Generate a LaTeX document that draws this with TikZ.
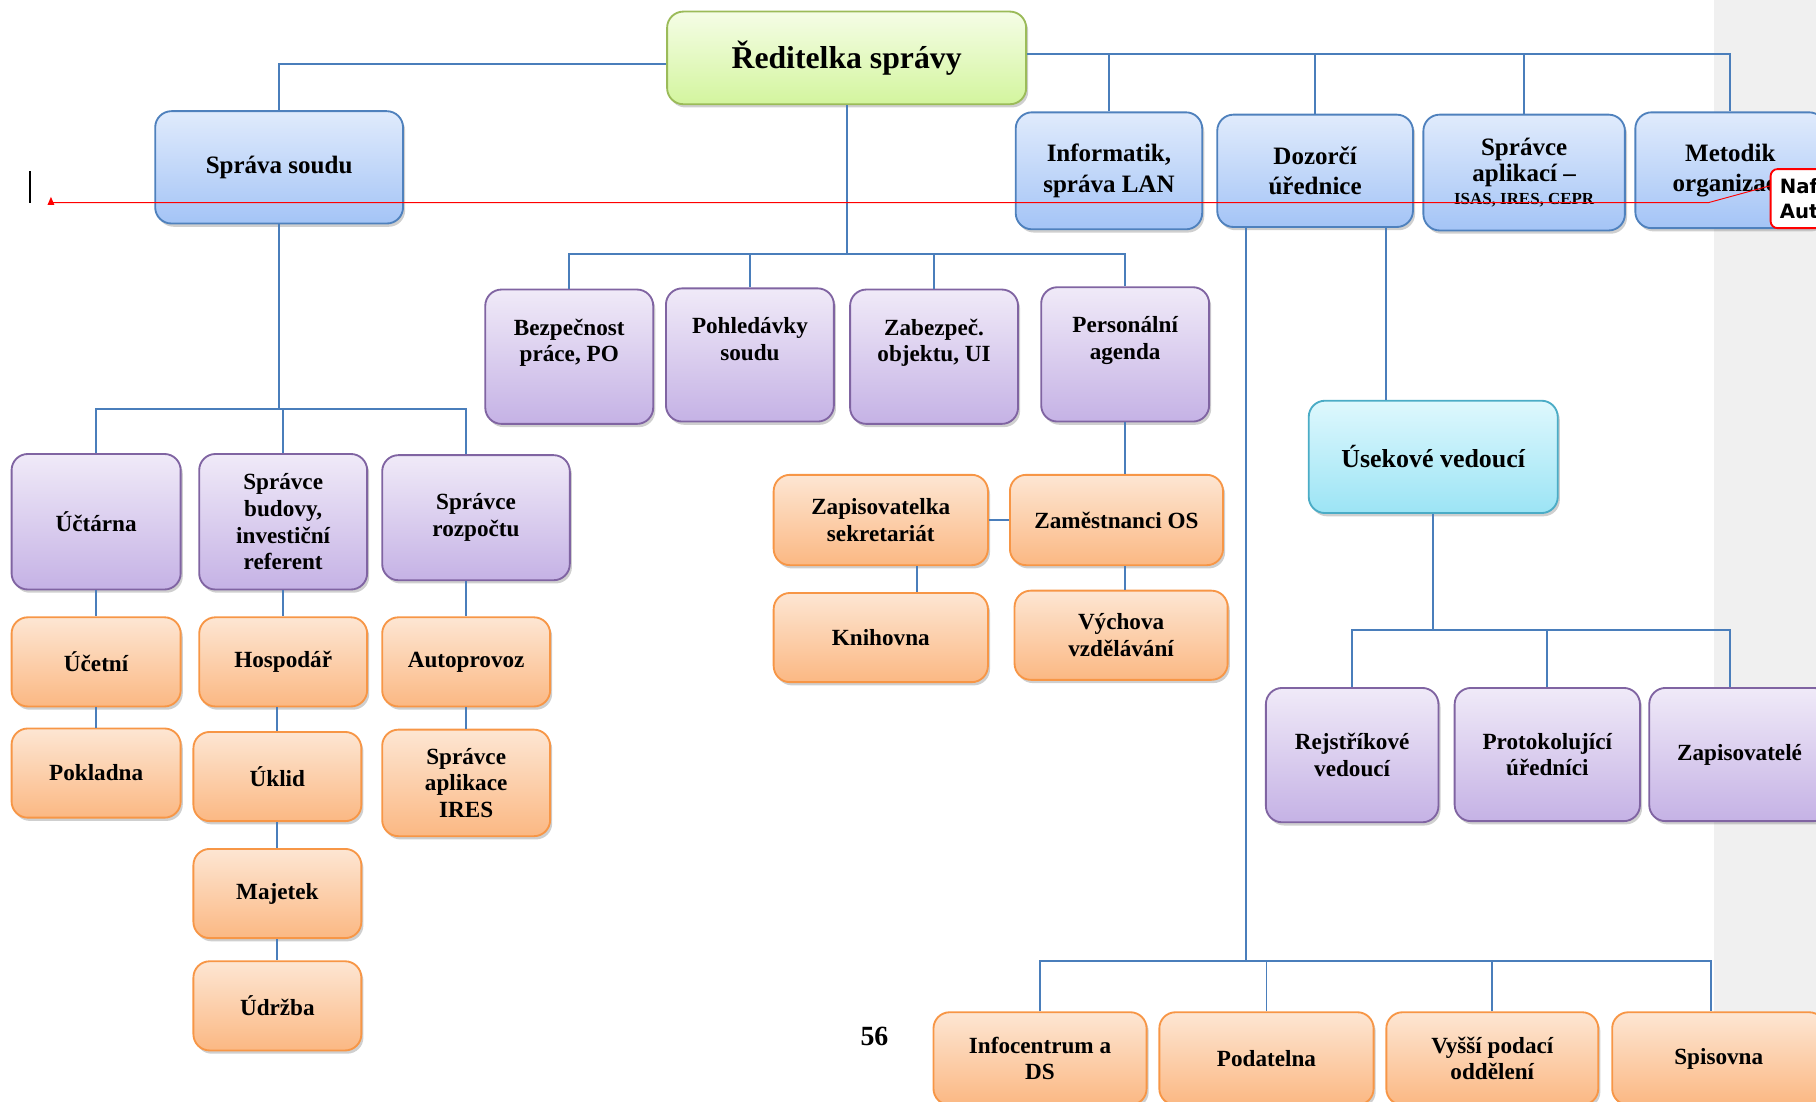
\documentclass[tikz,border=0pt]{standalone}
\usepackage{fontspec}
\setmainfont{Liberation Serif}
\newfontfamily\notesans{DejaVu Sans}
\usetikzlibrary{shadows,calc}
\definecolor{ortop}{HTML}{FDE6D3}
\definecolor{orbot}{HTML}{FBB883}
\definecolor{orline}{HTML}{F79646}
\definecolor{putop}{HTML}{F0EAF8}
\definecolor{pubot}{HTML}{C5B2E5}
\definecolor{puline}{HTML}{8064A2}
\definecolor{bltop}{HTML}{E0EBFC}
\definecolor{blbot}{HTML}{A4C4F6}
\definecolor{blline}{HTML}{4F81BD}
\definecolor{grtop}{HTML}{F5FDE6}
\definecolor{grbot}{HTML}{D3F59E}
\definecolor{grline}{HTML}{9BBB59}
\definecolor{cytop}{HTML}{DEF8FD}
\definecolor{cybot}{HTML}{9CE4F5}
\definecolor{cyline}{HTML}{4BACC6}
\definecolor{conncol}{HTML}{4A7EBB}
\definecolor{graybg}{HTML}{F0F0F0}
\tikzset{
  sz/.style 2 args={minimum width=#1*0.5pt, minimum height=#2*0.5pt},
  box/.style={rounded corners=7pt, align=center, inner sep=2pt, line width=0.8pt,
    font=\bfseries\fontsize{10}{11.5}\selectfont,
    drop shadow={shadow xshift=0.9pt, shadow yshift=-1.4pt, opacity=0.38}},
  orbox/.style={box, draw=orline, top color=ortop, bottom color=orbot},
  pubox/.style={box, draw=puline, top color=putop, bottom color=pubot},
  blbox/.style={box, draw=blline, top color=bltop, bottom color=blbot,
    font=\bfseries\fontsize{10.8}{13}\selectfont},
  grbox/.style={box, draw=grline, top color=grtop, bottom color=grbot,
    font=\bfseries\fontsize{13.7}{16}\selectfont},
  cybox/.style={box, draw=cyline, top color=cytop, bottom color=cybot,
    font=\bfseries\fontsize{11.2}{13}\selectfont},
  raised/.style={text depth=14pt},
  conn/.style={draw=conncol, line width=0.8pt},
}
\begin{document}
\begin{tikzpicture}[x=0.5pt,y=-0.5pt]
\useasboundingbox (0,0) rectangle (1568,951);
\begin{scope}
\clip (0,0) rectangle (1568,951);
\fill[graybg] (1480,0) rectangle (1568,951);

% top level
\node[grbox, sz={310}{80}] (dir) at (731,50) {Ředitelka správy};
\node[blbox, sz={214}{97}] (ss) at (241,144.5) {Správa soudu};
\node[blbox, sz={161}{101}] (inf) at (957.5,147.5) {Informatik,\\správa LAN};
\node[blbox, sz={169}{97}] (doz) at (1135.5,147.5) {Dozorčí\\úřednice};
\node[blbox, sz={174}{100}] (apl) at (1316,149) {Správce\\[-1.5pt]aplikací –\\[-3pt]{\fontsize{7.3}{9}\selectfont ISAS, IRES, CEPR}};
\node[blbox, sz={164}{100}] (met) at (1494,147) {Metodik\\organizace};

% middle purple row
\node[pubox, raised, sz={145}{116}] (bez) at (491.5,308) {Bezpečnost\\práce, PO};
\node[pubox, raised, sz={145}{115}] (poh) at (647.5,306.5) {Pohledávky\\soudu};
\node[pubox, raised, sz={145}{116}] (zab) at (806.5,308) {Zabezpeč.\\objektu, UI};
\node[pubox, raised, sz={145}{116}] (per) at (971.5,306) {Personální\\agenda};

% left purple row
\node[pubox, sz={146}{117}] (uct) at (83,450.5) {Účtárna};
\node[pubox, sz={145}{117}] (sb) at (244.5,450.5) {Správce\\budovy,\\investiční\\referent};
\node[pubox, sz={162}{108}] (roz) at (411,447) {Správce\\rozpočtu};

% left orange
\node[orbox, sz={146}{77}] (ucet) at (83,571.5) {Účetní};
\node[orbox, sz={146}{77}] (pok) at (83,667.5) {Pokladna};
\node[orbox, sz={145}{77}] (hos) at (244.5,571.5) {Hospodář};
\node[orbox, sz={145}{77}] (ukl) at (239.5,670.5) {Úklid};
\node[orbox, sz={145}{77}] (maj) at (239.5,771.5) {Majetek};
\node[orbox, sz={145}{77}] (udr) at (239.5,868.5) {Údržba};
\node[orbox, sz={145}{77}] (auto) at (402.5,571.5) {Autoprovoz};
\node[orbox, sz={145}{92}] (ires) at (402.5,676) {Správce\\aplikace\\IRES};

% middle orange
\node[orbox, sz={185}{78}] (zap) at (760.5,449) {Zapisovatelka\\sekretariát};
\node[orbox, sz={184}{78}] (zam) at (964,449) {Zaměstnanci OS};
\node[orbox, sz={185}{77}] (kni) at (760.5,550.5) {Knihovna};
\node[orbox, sz={184}{77}] (vych) at (968,548.5) {Výchova\\vzdělávání};

% right part
\node[cybox, sz={215}{97}] (use) at (1237.5,394.5) {Úsekové vedoucí};
\node[pubox, sz={149}{116}] (rej) at (1167.5,652) {Rejstříkové\\vedoucí};
\node[pubox, sz={160}{115}] (pro) at (1336,651.5) {Protokolující\\úředníci};
\node[pubox, sz={156}{115}] (zps) at (1502,651.5) {Zapisovatelé};

% bottom row
\node[orbox, sz={184}{80}] (ic) at (898,914) {Infocentrum a\\DS};
\node[orbox, sz={185}{80}] (pod) at (1093.5,914) {Podatelna};
\node[orbox, sz={183}{80}] (vys) at (1288.5,914) {Vyšší podací\\oddělení};
\node[orbox, sz={184}{80}] (spis) at (1484,914) {Spisovna};

\node[font=\bfseries\fontsize{12}{14}\selectfont] (pg) at (755,895) {56};

% connectors: top
\coordinate (rt) at ($(dir.east)+(0,-3)$);
\draw[conn] (rt) -| (met.north);
\draw[conn] (inf.north) -- (inf.north |- rt);
\draw[conn] (doz.north) -- (doz.north |- rt);
\draw[conn] (apl.north) -- (apl.north |- rt);
\draw[conn] (dir.west) ++(0,5) -| (ss.north);

% connectors: middle
\coordinate (mb) at (735,219);
\draw[conn] (dir.south) -- (dir.south |- mb);
\draw[conn] (bez.north) |- (per.north |- mb) -- (per.north);
\draw[conn] (poh.north) -- (poh.north |- mb);
\draw[conn] (zab.north) -- (zab.north |- mb);
\draw[conn] (per.south) -- (per.south |- zam.north);
\draw[conn] (zap.east) -- (zam.west);
\draw[conn] ([xshift=15.5pt]zap.south) -- ([xshift=15.5pt]zap.south |- kni.north);
\draw[conn] (per.south |- zam.south) -- (per.south |- vych.north);

% connectors: left
\coordinate (lb) at (240,353);
\draw[conn] (ss.south) -- (ss.south |- lb);
\draw[conn] (uct.north) |- (auto.north |- lb) -- (auto.north |- roz.north);
\draw[conn] (sb.north) -- (sb.north |- lb);
\draw[conn] (uct.south) -- (ucet.north);
\draw[conn] (ucet.south) -- (pok.north);
\draw[conn] (sb.south) -- (hos.north);
\draw[conn] (ukl.north |- hos.south) -- (ukl.north);
\draw[conn] (ukl.south) -- (maj.north);
\draw[conn] (maj.south) -- (udr.north);
\draw[conn] (auto.north |- roz.south) -- (auto.north);
\draw[conn] (auto.south) -- (ires.north);

% connectors: right
\coordinate (dl) at ($(doz.south)+(-60,0)$);
\coordinate (dr) at ($(doz.south)+(61,0)$);
\coordinate (bb) at (0,830);
\coordinate (ub) at (0,544);
\draw[conn] (dl) -- (dl |- bb);
\draw[conn] (ic.north) |- ([xshift=-3.5pt]spis.north |- bb) -- ([xshift=-3.5pt]spis.north);
\draw[conn] (pod.north) -- (pod.north |- bb);
\draw[conn] (vys.north) -- (vys.north |- bb);
\draw[conn] (dr) -- (dr |- use.north);
\draw[conn] (use.south) -- (use.south |- ub);
\draw[conn] (rej.north) |- ([xshift=-4pt]zps.north |- ub) -- ([xshift=-4pt]zps.north);
\draw[conn] (pro.north) -- (pro.north |- ub);

% comment marker
\node[draw=red, fill=white, rounded corners=3pt, line width=0.8pt, anchor=west,
  text width=36pt, inner xsep=4pt, minimum height=25.5pt, align=left,
  font=\notesans\bfseries\fontsize{8.5}{10.5}\selectfont] (cmt) at (1528,171.5) {Nafo\\Auto};
\coordinate (tri) at (44,175);
\coordinate (bend) at (1475,175);
\draw[red, line width=0.4pt] (tri) -- (bend) -- ([yshift=5.5pt]cmt.west);
\fill[red] (41,177) -- (47,177) -- (44,170) -- cycle;
\draw[black, line width=0.6pt] (26,148) -- (26,175);
\end{scope}
\end{tikzpicture}
\end{document}
